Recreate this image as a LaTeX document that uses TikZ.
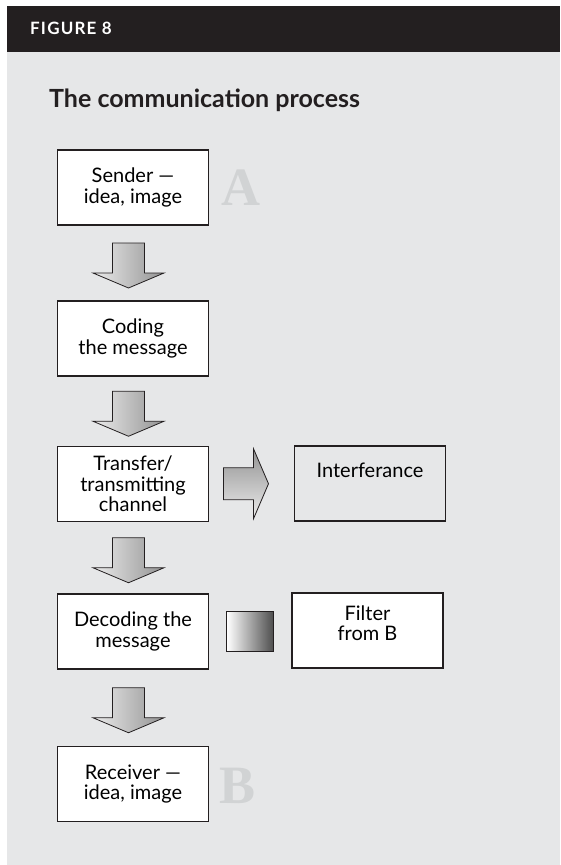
\documentclass[tikz,border=0pt]{standalone}
\usepackage{fontspec}
\setmainfont{Lato}
\newfontfamily\letterfont{Liberation Serif}
\usetikzlibrary{calc, positioning}
\definecolor{ink}{HTML}{231F20}
\definecolor{panel}{HTML}{E6E7E8}
\definecolor{ghost}{HTML}{D1D3D4}
\def\boxwd{151pt}
\def\boxht{75pt}

\begin{document}
\begin{tikzpicture}[x=1pt,y=-1pt]
    \tikzstyle{stage}=[draw=ink, line width=1.4pt, fill=white, minimum width=\boxwd, minimum height=\boxht, inner sep=0pt, align=center, font=\fontsize{20}{20.5}\selectfont]
    \tikzstyle{side stage}=[stage, fill=none]
    \tikzstyle{top text}=[anchor=north, inner sep=0pt, align=center, font=\fontsize{20}{20.5}\selectfont]
    \tikzstyle{block arrow}=[draw=ink, line width=0.8pt, line join=miter]
    \tikzstyle{ghost letter}=[text=ghost, font=\letterfont\bfseries\fontsize{54}{54}\selectfont, anchor=base, inner sep=0pt]

    % Page, panel and header band
    \useasboundingbox[fill=white] (0,0) rectangle (560,865);
    \fill[panel] (7,52) rectangle (560,865);
    \fill[ink] (7,6) rectangle (560,52);
    \node[anchor=base west, inner sep=0pt, text=white, font=\bfseries\fontsize{17}{17}\selectfont\addfontfeature{LetterSpace=7}] (fig) at (30,34) {FIGURE 8};
    \node[anchor=base west, inner sep=0pt, text=ink, font=\bfseries\fontsize{25}{25}\selectfont] (title) at (49,107) {The communication process};

    % The chain of stages
    \foreach \name / \y / \txt in {send/187.5/{Sender ---\\idea, image}, code/338.5/{Coding\\the message}, trans/484/{Transfer/\\transmitting\\channel}, decode/631.5/{Decoding the\\message}, recv/784/{Receiver ---\\idea, image}}
        \node[stage] (\name) at (133,\y) {\txt};

    % The side boxes
    \node[side stage, label={[top text, yshift=-17pt]north:Interferance}] (interf) at (370,483.5) {};
    \node[stage, label={[top text, yshift=-13pt]north:{Filter\\from B}}] (filter) at (367.5,630.5) {};

    % Ghost letters
    \node[ghost letter] (A) at (241,205) {A};
    \node[ghost letter] (B) at (238,803) {B};

    % Down arrows between the stages
    \foreach \from / \to in {send/code, code/trans, trans/decode, decode/recv}
        \path[block arrow, left color=gray!15, right color=gray!85]
            ($(\from.south)!0.5!(\to.north)$) ++(-20.5,-20) -- ++(32,0) -- ++(0,30) -- ++(19.5,0)
            -- ++(-35.5,15) -- ++(-35.5,-15) -- ++(19.5,0) -- cycle;

    % Arrow towards the interference
    \path[block arrow, top color=gray!85, bottom color=gray!15]
        ($(trans.east)!0.5!(interf.west)$) ++(-28,-16) -- ++(30,0) -- ++(0,-19)
        -- ++(15,35) -- ++(-15,35) -- ++(0,-19) -- ++(-30,0) -- cycle;

    % Filter bar
    \node[draw=ink, line width=0.8pt, minimum width=47pt, minimum height=40pt, inner sep=0pt, left color=white, right color=black!70] (bar) at ($(decode.east)!0.5!(filter.west)$) {};
\end{tikzpicture}
\end{document}
